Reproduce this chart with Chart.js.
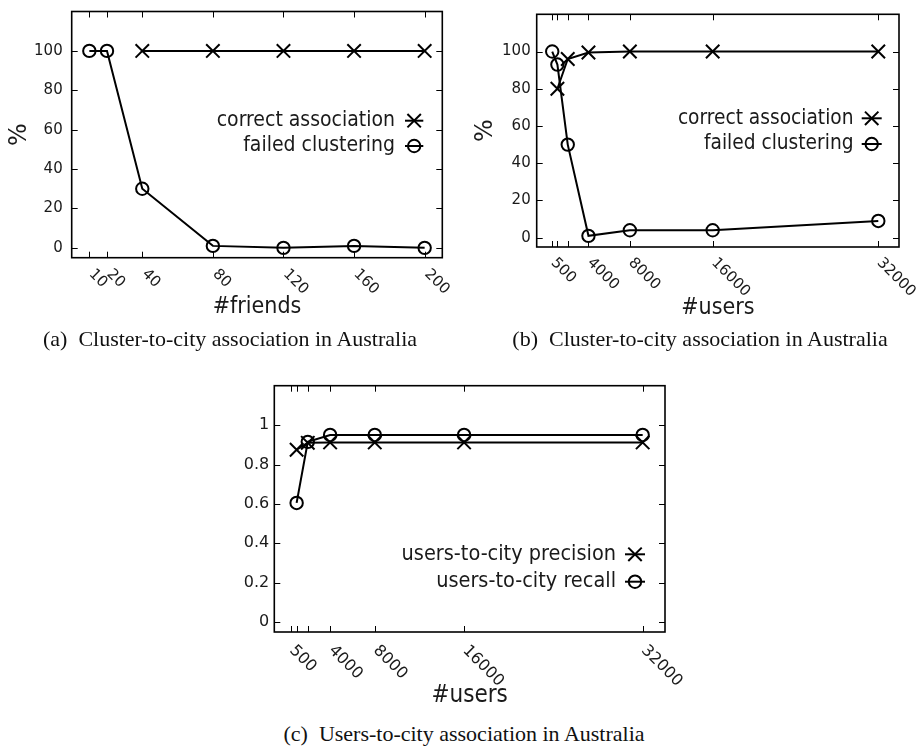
<!DOCTYPE html>
<html>
<head>
<meta charset="utf-8">
<script src="https://cdn.jsdelivr.net/npm/chart.js@4.4.1/dist/chart.umd.min.js"></script>
<style>
  html, body { margin: 0; padding: 0; background: #fff; }
  body { width: 920px; height: 749px; position: relative; overflow: hidden; }
  canvas { position: absolute; }
  .cap {
    position: absolute;
    font-family: "Liberation Serif", "Times New Roman", serif;
    font-size: 22px;
    line-height: 1;
    color: #111;
    white-space: pre;
    transform: translateX(-50%);
  }
</style>
</head>
<body>
<canvas id="panelA" width="460" height="330" style="left:0px;top:0px"></canvas>
<canvas id="panelB" width="460" height="330" style="left:460px;top:0px"></canvas>
<canvas id="panelC" width="480" height="360" style="left:220px;top:360px"></canvas>
<div class="cap" style="left:230px;top:328px">(a)  Cluster-to-city association in Australia</div>
<div class="cap" style="left:700px;top:328px">(b)  Cluster-to-city association in Australia</div>
<div class="cap" style="left:464px;top:723px">(c)  Users-to-city association in Australia</div>

<script>
// ---- data ----
const friendsCounts = [10, 20, 40, 80, 120, 160, 200];
const friendsTickLabels = ['10', '20', '40', '80', '120', '160', '200'];
const friendsCorrect = [null, null, 100, 100, 100, 100, 100];
const friendsFailed = [100, 100, 30, 1, 0, 1, 0];

const userCounts = [500, 1000, 2000, 4000, 8000, 16000, 32000];
const userTickLabels = ['500', '', '', '4000', '8000', '16000', '32000'];
const usersCorrect = [null, 80, 96, 99.5, 100, 100, 100];
const usersFailed = [100, 93, 50, 1, 4, 4, 9];

const cityPrecision = [null, 0.875, 0.91, 0.912, 0.912, 0.912, 0.912];
const cityRecall = [null, 0.605, 0.915, 0.95, 0.95, 0.95, 0.95];

const percentTicks = [0, 20, 40, 60, 80, 100];
const percentTickLabels = ['0', '20', '40', '60', '80', '100'];
const ratioTicks = [0, 0.2, 0.4, 0.6, 0.8, 1];
const ratioTickLabels = ['0', '0.2', '0.4', '0.6', '0.8', '1'];

const clusterSeriesNames = ['correct association', 'failed clustering'];
const citySeriesNames = ['users-to-city precision', 'users-to-city recall'];

// ---- styling ----
const INK = '#000';
const TEXT = '#1a1a1a';
const SANS = '"DejaVu Sans", "Liberation Sans", sans-serif';
const SANS_NARROW = '"DejaVu Sans Condensed", "DejaVu Sans", sans-serif';

const crossMarker = { pointStyle: 'crossRot', pointRadius: 9.5 };
const circleMarker = { pointStyle: 'circle', pointRadius: 6.2 };

function toPoints(xs, ys) {
  return xs.map((x, i) => ({ x: x, y: ys[i] }));
}

// Inward gnuplot-style frame, tick marks, rotated tick labels and key
const gnuplotFrame = {
  id: 'gnuplotFrame',
  beforeDatasetsDraw(chart, args, opts) {
    const ctx = chart.ctx;
    const a = chart.chartArea;
    const xs = chart.scales.x, ys = chart.scales.y;
    const len = opts.tickLen;
    ctx.save();
    ctx.strokeStyle = INK;
    ctx.lineWidth = 1;
    ctx.beginPath();
    xs.ticks.forEach(t => {
      const px = Math.round(xs.getPixelForValue(t.value)) + 0.5;
      ctx.moveTo(px, a.bottom); ctx.lineTo(px, a.bottom - len);
      ctx.moveTo(px, a.top); ctx.lineTo(px, a.top + len);
    });
    ys.ticks.forEach(t => {
      const py = Math.round(ys.getPixelForValue(t.value)) + 0.5;
      ctx.moveTo(a.left, py); ctx.lineTo(a.left + len, py);
      ctx.moveTo(a.right, py); ctx.lineTo(a.right - len, py);
    });
    ctx.stroke();
    ctx.lineWidth = 1.6;
    ctx.strokeRect(a.left, a.top, a.right - a.left, a.bottom - a.top);
    ctx.restore();
  },
  afterDraw(chart, args, opts) {
    const ctx = chart.ctx;
    const a = chart.chartArea;
    const xs = chart.scales.x, ys = chart.scales.y;
    ctx.save();
    ctx.fillStyle = TEXT;
    ctx.font = opts.tickFont + 'px ' + SANS;

    // y tick labels
    ctx.textAlign = 'right';
    ctx.textBaseline = 'middle';
    ys.ticks.forEach((t, i) => {
      ctx.fillText(opts.yLabels[i], a.left - opts.yPad, ys.getPixelForValue(t.value));
    });

    // x tick labels, slanted downwards to the right
    ctx.textAlign = 'left';
    xs.ticks.forEach((t, i) => {
      const text = opts.xLabels[i];
      if (!text) return;
      ctx.save();
      ctx.translate(xs.getPixelForValue(t.value) + opts.xLabelDx, a.bottom + opts.xLabelDy);
      ctx.rotate(Math.PI / 4);
      ctx.fillText(text, 0, 0);
      ctx.restore();
    });

    // key: right-aligned names followed by a line sample with its marker
    const key = opts.key;
    ctx.font = key.font + 'px ' + SANS_NARROW;
    ctx.textAlign = 'right';
    chart.data.datasets.forEach((ds, i) => {
      const y = key.rows[i];
      ctx.fillStyle = TEXT;
      ctx.fillText(ds.label, key.right, y);
      ctx.strokeStyle = INK;
      ctx.lineWidth = 2;
      ctx.beginPath();
      ctx.moveTo(key.line[0], y);
      ctx.lineTo(key.line[1], y);
      ctx.stroke();
      const cx = (key.line[0] + key.line[1]) / 2;
      ctx.beginPath();
      if (ds.pointStyle === 'circle') {
        ctx.arc(cx, y, ds.pointRadius, 0, Math.PI * 2);
      } else {
        const d = ds.pointRadius * Math.SQRT1_2;
        ctx.moveTo(cx - d, y - d); ctx.lineTo(cx + d, y + d);
        ctx.moveTo(cx + d, y - d); ctx.lineTo(cx - d, y + d);
      }
      ctx.stroke();
    });
    ctx.restore();
  }
};

function makePanel(cfg) {
  const canvas = document.getElementById(cfg.canvas);
  const W = canvas.width, H = canvas.height;
  const area = cfg.area;
  const datasets = cfg.series.map(s => Object.assign({
    label: s.name,
    data: toPoints(cfg.xs, s.values),
    borderColor: INK,
    borderWidth: 2,
    pointBorderColor: INK,
    pointBackgroundColor: 'rgba(0,0,0,0)',
    pointBorderWidth: 2,
    tension: 0,
    fill: false,
    spanGaps: false,
    clip: false
  }, s.marker));

  return new Chart(canvas, {
    type: 'line',
    data: { datasets: datasets },
    plugins: [gnuplotFrame],
    options: {
      responsive: false,
      animation: false,
      devicePixelRatio: 1,
      events: [],
      layout: { padding: { left: 0, top: area.t, right: W - area.r, bottom: 0 } },
      plugins: {
        legend: { display: false },
        tooltip: { enabled: false },
        gnuplotFrame: {
          tickLen: 6,
          tickFont: cfg.tickFont,
          yPad: cfg.yPad,
          xLabelDx: cfg.xLabelDx,
          xLabelDy: cfg.xLabelDy,
          xLabels: cfg.xLabels,
          yLabels: cfg.yLabels,
          key: cfg.key
        }
      },
      scales: {
        x: {
          type: 'linear',
          min: cfg.xMin, max: cfg.xMax,
          grid: { display: false, drawTicks: false },
          border: { display: false },
          ticks: { display: false },
          afterBuildTicks: s => { s.ticks = cfg.xs.map(v => ({ value: v })); },
          afterFit: s => { s.height = H - area.b; },
          title: {
            display: true, text: cfg.xTitle, color: TEXT,
            font: { family: SANS_NARROW, size: cfg.xTitleSize },
            padding: { top: 0, bottom: cfg.xTitlePad }
          }
        },
        y: {
          type: 'linear',
          min: cfg.yMin, max: cfg.yMax,
          grid: { display: false, drawTicks: false },
          border: { display: false },
          ticks: { display: false },
          afterBuildTicks: s => { s.ticks = cfg.yTicks.map(v => ({ value: v })); },
          afterFit: s => { s.width = area.l; },
          title: {
            display: !!cfg.yTitle, text: cfg.yTitle || '', color: TEXT,
            font: { family: SANS, size: 24 },
            padding: { top: cfg.yTitlePad || 0, bottom: 0 }
          }
        }
      }
    }
  });
}

makePanel({
  canvas: 'panelA',
  area: { l: 71.7, t: 8.3, r: 442.3, b: 257.7 },
  xs: friendsCounts, xLabels: friendsTickLabels, xMin: 0, xMax: 210,
  yTicks: percentTicks, yLabels: percentTickLabels, yMin: -5, yMax: 120,
  series: [
    { name: clusterSeriesNames[0], values: friendsCorrect, marker: crossMarker },
    { name: clusterSeriesNames[1], values: friendsFailed, marker: circleMarker }
  ],
  tickFont: 15, yPad: 9, xLabelDx: 2, xLabelDy: 14,
  xTitle: '#friends', xTitleSize: 23, xTitlePad: 9.4,
  yTitle: '%', yTitlePad: 5,
  key: { font: 21, right: 395, rows: [120.7, 146], line: [405, 423.3] }
});

makePanel({
  canvas: 'panelB',
  area: { l: 76.7, t: 14.3, r: 439, b: 247 },
  xs: userCounts, xLabels: userTickLabels, xMin: -1000, xMax: 34000,
  yTicks: percentTicks, yLabels: percentTickLabels, yMin: -5, yMax: 120,
  series: [
    { name: clusterSeriesNames[0], values: usersCorrect, marker: crossMarker },
    { name: clusterSeriesNames[1], values: usersFailed, marker: circleMarker }
  ],
  tickFont: 15, yPad: 6, xLabelDx: 1, xLabelDy: 13.5,
  xTitle: '#users', xTitleSize: 23, xTitlePad: 8.5,
  yTitle: '%', yTitlePad: 11,
  key: { font: 20.7, right: 393.5, rows: [118.3, 144], line: [401.7, 421.7] }
});

makePanel({
  canvas: 'panelC',
  area: { l: 54.3, t: 25.7, r: 445, b: 272 },
  xs: userCounts, xLabels: userTickLabels, xMin: -1000, xMax: 34000,
  yTicks: ratioTicks, yLabels: ratioTickLabels, yMin: -0.05, yMax: 1.2,
  series: [
    { name: citySeriesNames[0], values: cityPrecision, marker: crossMarker },
    { name: citySeriesNames[1], values: cityRecall, marker: circleMarker }
  ],
  tickFont: 16, yPad: 5, xLabelDx: 1, xLabelDy: 16,
  xTitle: '#users', xTitleSize: 24, xTitlePad: 9.5,
  yTitle: '',
  key: { font: 21.5, right: 396, rows: [194.3, 221.7], line: [405, 425] }
});
</script>
</body>
</html>
